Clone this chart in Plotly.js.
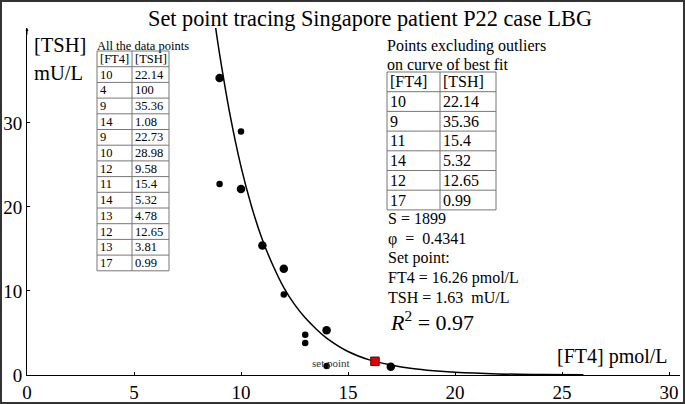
<!DOCTYPE html>
<html>
<head>
<meta charset="utf-8">
<script src="https://cdn.plot.ly/plotly-3.0.1.min.js"></script>
<style>
  html, body { margin: 0; padding: 0; background: #fff; }
  #chart { width: 685px; height: 404px; }
</style>
</head>
<body>
<div id="chart"></div>
<script>
// all the data points (left table)
const allFT4 = [10, 4, 9, 14, 9, 10, 12, 11, 14, 13, 12, 13, 17];
const allTSH = [22.14, 100, 35.36, 1.08, 22.73, 28.98, 9.58, 15.4, 5.32, 4.78, 12.65, 3.81, 0.99];

// points kept for the fit (right table)
const fitFT4 = [10, 9, 11, 14, 12, 17];
const fitTSH = [22.14, 35.36, 15.4, 5.32, 12.65, 0.99];

// outliers drawn as smaller dots
const outFT4 = [9, 10, 12, 13, 13, 14];
const outTSH = [22.73, 28.98, 9.58, 4.78, 3.81, 1.08];

// curve of best fit
const curveFT4 = [8.8, 9, 9.5, 10, 10.5, 11, 11.5, 12, 12.5, 13, 13.5, 14, 15, 16, 17, 18, 19, 20, 22, 24, 26];
const curveTSH = [41.6, 38.2, 30.8, 24.8, 20.0, 16.1, 13.0, 10.4, 8.4, 6.8, 5.5, 4.4, 2.8, 1.8, 1.2, 0.77, 0.5, 0.32, 0.13, 0.06, 0.02];

const setFT4 = [16.26];
const setTSH = [1.63];

const tableHead = ['[FT4]', '[TSH]'];

// plot area in pixels
const L = 27, R = 5, T = 28, B = 29;
const W = 685 - L - R, H = 404 - T - B;
const px = x => (x - L) / W;
const py = y => (404 - B - y) / H;

const serif = 'Liberation Serif, Times New Roman, serif';

const traces = [
  {
    x: curveFT4, y: curveTSH, type: 'scatter', mode: 'lines',
    line: {color: '#000', width: 1.5, shape: 'spline'}
  },
  {
    x: outFT4, y: outTSH, type: 'scatter', mode: 'markers',
    marker: {color: '#000', size: 6.5}
  },
  {
    x: fitFT4, y: fitTSH, type: 'scatter', mode: 'markers',
    marker: {color: '#000', size: 8.5}
  },
  {
    x: setFT4, y: setTSH, type: 'scatter', mode: 'markers',
    marker: {color: '#e00000', size: 8.5, symbol: 'square', line: {color: '#600', width: 1}}
  }
];

function note(text, x, y, size, anchor) {
  return {
    text: text, xref: 'paper', yref: 'paper', x: px(x), y: py(y),
    xanchor: anchor || 'left', yanchor: 'middle', showarrow: false,
    font: {family: serif, size: size, color: '#000'}
  };
}

const annotations = [];
const shapes = [];

// a small bordered table: grid lines as shapes, cells as annotations
function addTable(cols, colEdges, top, rowH, size) {
  const nRows = cols[0].length + 1;
  const bottom = top + nRows * rowH;
  for (let r = 0; r <= nRows; r++) {
    shapes.push({type: 'line', xref: 'paper', yref: 'paper',
      x0: px(colEdges[0]), x1: px(colEdges[colEdges.length - 1]),
      y0: py(top + r * rowH), y1: py(top + r * rowH),
      line: {color: '#777', width: 1}});
  }
  for (const cx of colEdges) {
    shapes.push({type: 'line', xref: 'paper', yref: 'paper',
      x0: px(cx), x1: px(cx), y0: py(top), y1: py(bottom),
      line: {color: '#777', width: 1}});
  }
  for (let c = 0; c < cols.length; c++) {
    const texts = [tableHead[c]].concat(cols[c].map(String));
    texts.forEach((t, r) => {
      annotations.push(note(t, colEdges[c] + 1, top + (r + 0.5) * rowH, size));
    });
  }
}

addTable([allFT4, allTSH], [97, 132, 169], 51, 15.7, 12.5);
addTable([fitFT4, fitTSH], [387, 440, 496], 72, 19.7, 16);

annotations.push(
  note('[TSH]', 32, 45, 20.5),
  note('mU/L', 32, 73, 20.5),
  note('All the data points', 95, 46, 12.5),
  note('Points excluding outliers', 385, 46, 16),
  note('on curve of best fit', 385, 64, 16),
  note('S = 1899', 386, 218, 16),
  note('φ  =  0.4341', 386, 239, 16),
  note('Set point:', 386, 258, 16),
  note('FT4 = 16.26 pmol/L', 386, 278, 16),
  note('TSH = 1.63  mU/L', 386, 297, 16),
  note('<i>R</i><sup>2</sup> = 0.97', 388, 321, 22),
  note('[FT4] pmol/L', 670, 356, 20, 'right'),
  {
    text: 'set point', x: 14.2, y: 1.4, xref: 'x', yref: 'y', showarrow: false,
    font: {family: serif, size: 11, color: '#333'}
  },
  {
    x: 0, y: 41.3, xref: 'x', yref: 'y', ax: 0, ay: 8, showarrow: true,
    arrowhead: 2, arrowsize: 0.6, arrowwidth: 1, arrowcolor: '#000', text: ''
  }
);

shapes.push({
  type: 'rect', xref: 'paper', yref: 'paper',
  x0: px(1), x1: px(684), y0: py(403), y1: py(1),
  line: {color: '#333', width: 2}
});

const layout = {
  width: 685, height: 404,
  margin: {l: L, r: R, t: T, b: B},
  paper_bgcolor: '#fff', plot_bgcolor: '#fff',
  showlegend: false,
  font: {family: serif, color: '#000'},
  title: {
    text: 'Set point tracing Singapore patient P22 case LBG',
    font: {family: serif, size: 22.3, color: '#000'},
    x: 370 / 685, xanchor: 'center', xref: 'container',
    y: 1 - 18 / 404, yanchor: 'middle', yref: 'container'
  },
  xaxis: {
    range: [0, W / 21.4], showgrid: false, zeroline: false,
    showline: true, linecolor: '#000', linewidth: 1,
    ticks: 'inside', ticklen: 3, tickcolor: '#000',
    tickvals: [0, 5, 10, 15, 20, 25, 30],
    tickfont: {family: serif, size: 19, color: '#000'}
  },
  yaxis: {
    range: [0, 41.3], showgrid: false, zeroline: false,
    showline: true, linecolor: '#000', linewidth: 1,
    ticks: 'inside', ticklen: 3, tickcolor: '#000',
    tickvals: [0, 10, 20, 30],
    tickfont: {family: serif, size: 19, color: '#000'}
  },
  shapes: shapes,
  annotations: annotations
};

Plotly.newPlot('chart', traces, layout, {displayModeBar: false, staticPlot: true});
</script>
</body>
</html>
